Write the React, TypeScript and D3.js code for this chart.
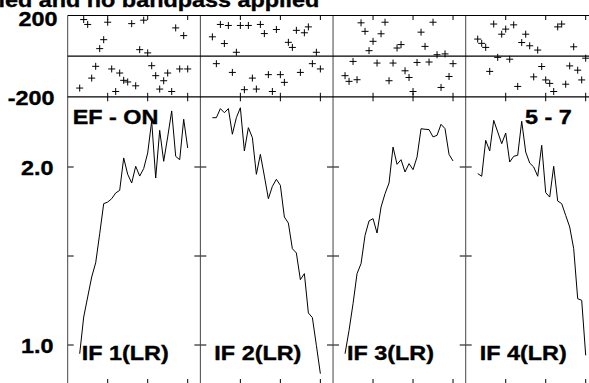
import React from "react";
import * as d3 from "d3";

const titleText = "ied and no bandpass applied";
const panelLabels = ["IF 1(LR)", "IF 2(LR)", "IF 3(LR)", "IF 4(LR)"];
const sourceLabel = "EF - ON";
const timeLabel = "5 - 7";
const channels = [3, 4, 5, 6, 7, 8, 9, 10, 11, 12, 13, 14, 15, 16, 17, 18, 19, 20, 21, 22, 23, 24, 25, 26, 27, 28, 29, 30];
const xTicks = [10, 20, 30];
const ampTicks = [1.0, 1.5, 2.0];
const ampTickLabels = [{ v: 2.0, t: "2.0" }, { v: 1.0, t: "1.0" }];
const phaseTickLabels = [{ v: 200, t: "200" }, { v: -200, t: "-200" }];

const amp1 = [0.951, 1.157, 1.270, 1.382, 1.462, 1.625, 1.794, 1.803, 1.822, 1.854, 1.869, 2.051, 1.959, 1.910, 2.004, 1.949, 1.991, 2.079, 2.258, 1.938, 2.206, 2.032, 2.169, 2.315, 2.060, 2.041, 2.268, 2.107];
const amp2 = [2.277, 2.277, 2.328, 2.305, 2.328, 2.184, 2.277, 2.333, 2.090, 2.221, 2.165, 1.959, 2.071, 1.949, 1.822, 1.891, 1.931, 1.897, 1.719, 1.685, 1.541, 1.517, 1.367, 1.401, 1.180, 1.154, 0.998, 0.839];
const amp3 = [0.951, 1.082, 1.232, 1.401, 1.457, 1.616, 1.697, 1.710, 1.629, 1.775, 1.850, 1.910, 2.112, 2.015, 2.041, 1.972, 2.019, 1.985, 2.056, 2.215, 2.212, 2.210, 2.169, 2.178, 2.240, 2.215, 2.071, 2.034];
const amp4 = [1.963, 1.948, 2.150, 2.090, 2.262, 2.197, 2.131, 2.191, 2.028, 2.060, 2.066, 2.257, 2.084, 2.022, 2.000, 1.948, 2.122, 1.856, 1.831, 2.004, 1.809, 1.794, 1.728, 1.663, 1.541, 1.260, 1.251, 0.942];

const ph1 = [-157, 180, 156, -108, -50, 37, 81, 167, -63, -174, -83, -119, -127, 160, -146, 32, 177, 16, -47, -96, -162, -121, -83, -174, 139, -63, 101, -63];
const ph2 = [95, -37, 156, 62, 151, -80, 19, 151, -165, 151, -108, -162, 156, 111, -91, -174, 131, -91, -129, 68, 43, 127, -80, 115, 144, -37, 19, -63];
const ph3 = [-96, -124, -26, -116, 164, 122, 27, 73, -34, 110, 167, -121, -34, 40, 57, -72, -105, -174, -31, 118, 48, -29, 167, 7, -154, 11, -100, -37];
const ph4 = [84, 63, 43, -75, 158, -6, 108, 133, -15, 154, -149, 67, 108, 51, -102, 30, -51, -117, -134, -174, 144, 158, -138, -48, 46, -69, -117, -10];

const amps = [amp1, amp2, amp3, amp4];
const phases = [ph1, ph2, ph3, ph4];

const W = 589;
const H = 383;
const left0 = 67.7;
const panelW = 132.67;
const phTop = 15.5;
const phBot = 96.8;
const ampBot = 384;

const FONT = "'Liberation Sans', Arial, Helvetica, sans-serif";
const FS = 19.5;
const SX = 1.2;

function Label({ x, y, anchor = "start", children }: any) {
  return (
    <text
      transform={`translate(${x},${y}) scale(${SX},1)`}
      fontFamily={FONT}
      fontWeight="bold"
      fontSize={FS}
      textAnchor={anchor}
      fill="#000"
      stroke="#000"
      strokeWidth={0.35}
    >
      {children}
    </text>
  );
}

export default function App() {
  const xs = d3.scaleLinear().domain([0, 33.17]).range([0, panelW]);
  const yPh = d3.scaleLinear().domain([-200, 200]).range([phBot, phTop]);
  const yAmp = d3.scaleLinear().domain([1.0, 2.0]).range([345, 167]);
  const line = d3
    .line<number>()
    .x((_, i) => xs(channels[i]))
    .y((d) => yAmp(d));

  return (
    <svg
      width={W}
      height={H}
      style={{ position: "absolute", left: 0, top: 0, background: "#fff" }}
    >
      <rect x={0} y={0} width={W} height={H} fill="#fff" />
      <Label x={-1.5} y={7}>{titleText}</Label>

      {amps.map((amp, p) => {
        const x0 = left0 + p * panelW;
        const x1 = x0 + panelW;
        return (
          <g key={p}>
            <g transform={`translate(${x0},0)`}>
              <path d={line(amp) || ""} fill="none" stroke="#000" strokeWidth={1} />
              {phases[p].map((v, i) => {
                const cx = xs(channels[i]);
                const cy = yPh(v);
                return (
                  <g key={i} stroke="#000" strokeWidth={1}>
                    <line x1={cx - 3.5} x2={cx + 3.5} y1={cy} y2={cy} />
                    <line x1={cx} x2={cx} y1={cy - 3.5} y2={cy + 3.5} />
                  </g>
                );
              })}
              {xTicks.map((t) => (
                <g key={t} stroke="#000" strokeWidth={1}>
                  <line x1={xs(t)} x2={xs(t)} y1={phTop} y2={phTop + 4.5} />
                  <line x1={xs(t)} x2={xs(t)} y1={phBot} y2={phBot - 4} />
                  <line x1={xs(t)} x2={xs(t)} y1={phBot} y2={phBot + 4.5} />
                  <line x1={xs(t)} x2={xs(t)} y1={ampBot} y2={ampBot - 5} />
                </g>
              ))}
            </g>
            {ampTicks.map((t) => (
              <g key={t} stroke="#000" strokeWidth={1}>
                <line x1={x0} x2={x0 + 6} y1={yAmp(t)} y2={yAmp(t)} />
                <line x1={x1} x2={x1 - 6} y1={yAmp(t)} y2={yAmp(t)} />
              </g>
            ))}
            <line x1={x0} x2={x0} y1={phTop} y2={ampBot} stroke="#444" strokeWidth={1} />
            <Label x={x0 + 14} y={360}>{panelLabels[p]}</Label>
          </g>
        );
      })}

      <line x1={left0} x2={W} y1={phTop} y2={phTop} stroke="#000" strokeWidth={1.2} />
      <line x1={left0} x2={W} y1={yPh(0)} y2={yPh(0)} stroke="#000" strokeWidth={1.2} />
      <line x1={left0} x2={W} y1={phBot} y2={phBot} stroke="#000" strokeWidth={1.2} />

      {phaseTickLabels.map((d) => (
        <Label key={d.t} x={d.v > 0 ? 57.5 : 54.5} y={d.v > 0 ? 26 : yPh(d.v) + 8} anchor="end">{d.t}</Label>
      ))}
      {ampTickLabels.map((d) => (
        <Label key={d.t} x={53.5} y={yAmp(d.v) + 7.5} anchor="end">{d.t}</Label>
      ))}

      <Label x={72.7} y={124}>{sourceLabel}</Label>
      <Label x={525} y={124}>{timeLabel}</Label>
    </svg>
  );
}
